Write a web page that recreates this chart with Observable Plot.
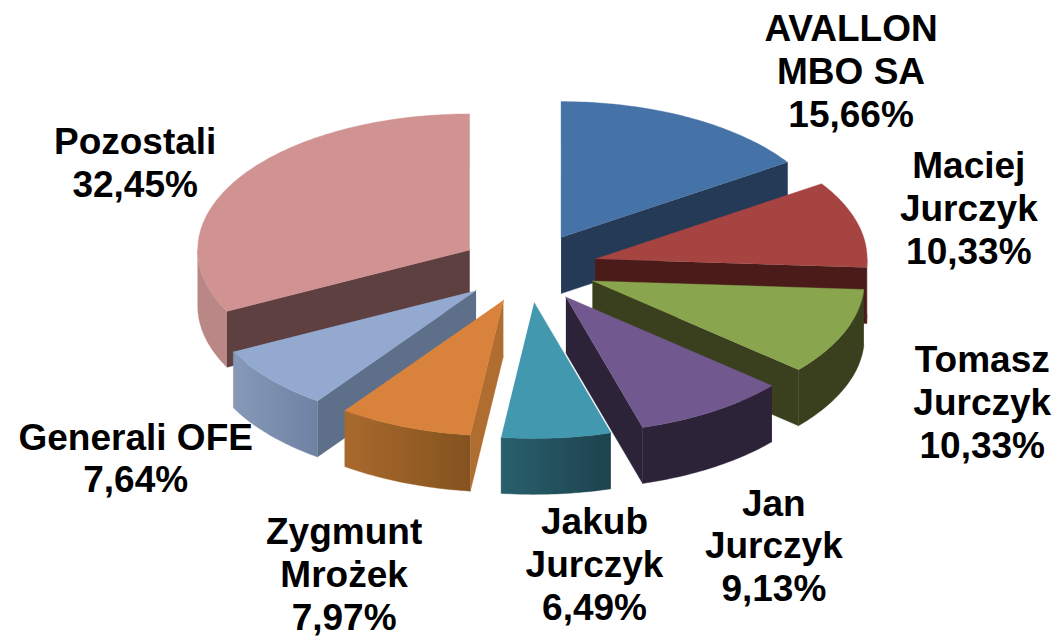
<!DOCTYPE html>
<html>
<head>
<meta charset="utf-8">
<style>html,body{margin:0;padding:0;background:#fff}svg{display:block}</style>
<script src="https://cdn.jsdelivr.net/npm/d3@7"></script>
<script src="https://cdn.jsdelivr.net/npm/@observablehq/plot@0.6"></script>
</head>
<body>
<script>
// Data
const names = ["AVALLON\nMBO SA","Maciej\nJurczyk","Tomasz\nJurczyk","Jan\nJurczyk","Jakub\nJurczyk","Zygmunt\nMrożek","Generali OFE","Pozostali"];
const shares = [15.66,10.33,10.33,9.13,6.49,7.97,7.64,32.45];
const shareLabels = ["15,66%","10,33%","10,33%","9,13%","6,49%","7,97%","7,64%","32,45%"];

// Styles
const topColors  = ["#4572a7","#a64441","#89a54e","#71588f","#4198af","#d8823b","#93a9cf","#d19392"];
const cutColors  = ["#243a56","#4a1b18","#3a401e","#2d2339","#255c6a","#b06d30","#5e6f89","#5e4041"];
const wallLeft   = ["#243a56","#4a1b18","#3a401e","#2d2339","#285f6d","#a9692c","#8799b8","#b98785"];
const wallRight  = ["#243a56","#4a1b18","#3a401e","#2d2339","#1d434e","#84531f","#6f82a3","#b98785"];
const paintOrder = [0,7,1,2,6,5,3,4];
const labelDx = [161,110,137,60,38,-60,-133,-102];
const labelDy = [-47,-16,69,133,125,146,78,-17];

// Pie layout
const cx = 528, cy = 267.5, R = 272, tilt = 0.5, explode = 69, depth = 56;
const rad = d => d * Math.PI / 180;
let acc = 0;
const slices = shares.map((v, i) => {
  const t0 = acc / 100 * 360; acc += v;
  const t1 = acc / 100 * 360, mid = (t0 + t1) / 2;
  return {i, t0, t1, mid,
    ax: cx + explode * Math.sin(rad(mid)),
    ay: cy - explode * tilt * Math.cos(rad(mid))};
});
const rim = (s, t, dz = 0) => [s.ax + R * Math.sin(rad(t)), s.ay - R * tilt * Math.cos(rad(t)) + dz];

const polys = [];
let pid = 0;
const addPoly = (pts, color) => { const id = pid++; pts.forEach(([x, y]) => polys.push({x, y, id, color})); };

for (const i of paintOrder) {
  const s = slices[i];
  // cut faces turned towards the viewer
  if (s.t0 > 180) addPoly([[s.ax, s.ay], rim(s, s.t0), rim(s, s.t0, depth), [s.ax, s.ay + depth]], cutColors[i]);
  if (s.t1 < 180) addPoly([[s.ax, s.ay], rim(s, s.t1), rim(s, s.t1, depth), [s.ax, s.ay + depth]], cutColors[i]);
  // outer wall, front half only, one outline with a left-to-right gradient
  const a = Math.max(s.t0, 90), b = Math.min(s.t1, 270);
  if (b > a) {
    const n = Math.ceil(b - a), wall = [];
    for (let k = 0; k <= n; k++) wall.push(rim(s, a + (b - a) * k / n));
    for (let k = n; k >= 0; k--) wall.push(rim(s, a + (b - a) * k / n, depth));
    addPoly(wall, `url(#wall${i})`);
  }
  // top face
  const top = [[s.ax, s.ay]];
  for (let t = s.t0; t < s.t1; t += 1) top.push(rim(s, t));
  top.push(rim(s, s.t1));
  addPoly(top, topColors[i]);
}

const labels = slices.map(s => ({
  x: cx + (R + 1 + explode) * Math.sin(rad(s.mid)) + labelDx[s.i],
  y: cy - (R + 1 + explode) * tilt * Math.cos(rad(s.mid)) + labelDy[s.i],
  text: names[s.i] + "\n" + shareLabels[s.i]
}));

const chart = Plot.plot({
  width: 1058, height: 639, margin: 0,
  x: {domain: [0, 1058], range: [0, 1058], axis: null},
  y: {domain: [0, 639], range: [0, 639], axis: null},
  color: {type: "identity"},
  style: {background: "#fff"},
  marks: [
    Plot.line(polys, {x: "x", y: "y", z: "id", fill: "color", stroke: "color", strokeWidth: 0.4, curve: "linear"}),
    Plot.text(labels, {x: "x", y: "y", text: "text", fontFamily: "Liberation Sans, Arial, sans-serif", fontWeight: "bold", fontSize: 37, lineHeight: 1.16, fill: "#000", textAnchor: "middle"})
  ]
});

// Wall shading gradients referenced by the fills above
const defs = d3.select(chart).insert("defs", ":first-child");
topColors.forEach((_, i) => {
  const g = defs.append("linearGradient").attr("id", `wall${i}`);
  g.append("stop").attr("offset", 0).attr("stop-color", wallLeft[i]);
  g.append("stop").attr("offset", 1).attr("stop-color", wallRight[i]);
});
document.body.appendChild(chart);
</script>
</body>
</html>
